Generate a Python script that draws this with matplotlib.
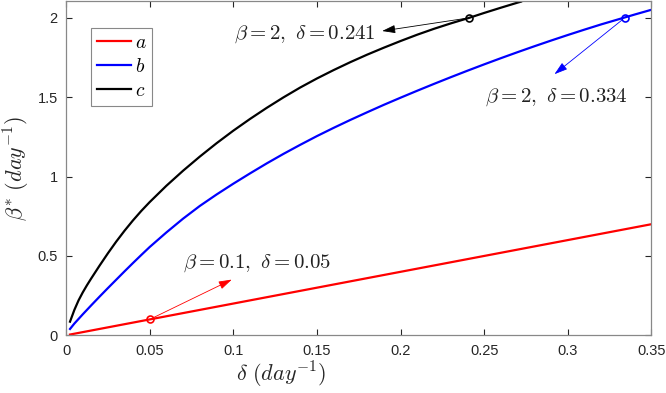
import matplotlib
matplotlib.use("Agg")
import matplotlib.pyplot as plt

plt.rcParams['font.family'] = ['Liberation Sans', 'DejaVu Sans']
plt.rcParams['mathtext.fontset'] = 'cm'

# ---- data ----
delta_a = [0.0024, 0.35]
beta_a = [0.0048, 0.70]

delta_b = [0.0024, 0.005, 0.0075, 0.01, 0.0125, 0.015, 0.02, 0.025, 0.03, 0.035, 0.04, 0.045,
           0.05, 0.06, 0.07, 0.08, 0.09, 0.10, 0.11, 0.12, 0.13, 0.14, 0.15, 0.16, 0.17,
           0.18, 0.19, 0.20, 0.21, 0.22, 0.23, 0.24, 0.25, 0.26, 0.27, 0.28, 0.29, 0.30,
           0.31, 0.32, 0.33, 0.34, 0.35]
beta_b = [0.04, 0.074, 0.103, 0.132, 0.16, 0.188, 0.243, 0.297, 0.35, 0.403, 0.455, 0.506,
          0.556, 0.648, 0.735, 0.815, 0.887, 0.955, 1.02, 1.083, 1.143, 1.20, 1.255, 1.307, 1.357,
          1.405, 1.452, 1.497, 1.541, 1.584, 1.626, 1.667, 1.707, 1.746, 1.784, 1.821, 1.857, 1.892,
          1.926, 1.959, 1.99, 2.021, 2.051]

delta_c = [0.0024, 0.005, 0.0075, 0.01, 0.0125, 0.015, 0.02, 0.025, 0.03, 0.035, 0.04, 0.045,
           0.05, 0.06, 0.07, 0.08, 0.09, 0.10, 0.11, 0.12, 0.13, 0.14, 0.15, 0.16, 0.17,
           0.18, 0.19, 0.20, 0.21, 0.22, 0.23, 0.241, 0.25, 0.26, 0.27, 0.272]
beta_c = [0.086, 0.16, 0.22, 0.27, 0.315, 0.357, 0.438, 0.516, 0.59, 0.659, 0.7235, 0.7835,
          0.839, 0.942, 1.037, 1.126, 1.21, 1.289, 1.363, 1.433, 1.499, 1.561, 1.618, 1.671, 1.721,
          1.768, 1.812, 1.854, 1.894, 1.931, 1.965, 2.0, 2.031, 2.064, 2.096, 2.102]

labels = ['$a$', '$b$', '$c$']
colors = ['#ff0000', '#0000ff', '#000000']

marked_delta = [0.05, 0.334, 0.241]
marked_beta = [0.1, 2.0, 2.0]
ann_texts = [r'$\beta=0.1,\ \delta=0.05$', r'$\beta=2,\ \delta=0.334$', r'$\beta=2,\ \delta=0.241$']
ann_colors = ['#ff0000', '#0000ff', '#000000']
arrow_heads = [(0.0991, 0.351), (0.292, 1.645), (0.189, 1.917)]
text_pos = [(0.1143, 0.454), (0.2932, 1.498), (0.1425, 1.898)]

xticks = [0, 0.05, 0.1, 0.15, 0.2, 0.25, 0.3, 0.35]
xticklabels = ['0', '0.05', '0.1', '0.15', '0.2', '0.25', '0.3', '0.35']
yticks = [0, 0.5, 1, 1.5, 2]
yticklabels = ['0', '0.5', '1', '1.5', '2']

fig = plt.figure(figsize=(6.66, 3.93), dpi=100)
ax = fig.add_axes([0.0991, 0.1468, 0.8791, 0.8502])

for d, b, lab, col in zip([delta_a, delta_b, delta_c], [beta_a, beta_b, beta_c], labels, colors):
    ax.plot(d, b, color=col, lw=1.6, label=lab, solid_joinstyle='round')

for md, mb, col in zip(marked_delta, marked_beta, ann_colors):
    ax.plot([md], [mb], 'o', mfc='none', mec=col, ms=5, mew=1.2)

for md, mb, txt, col, head, tp in zip(marked_delta, marked_beta, ann_texts, ann_colors, arrow_heads, text_pos):
    ax.annotate('', xy=head, xytext=(md, mb),
                arrowprops=dict(arrowstyle='-|>,head_length=0.8,head_width=0.25',
                                color=col, lw=0.6, shrinkA=2, shrinkB=0))
    ax.text(tp[0], tp[1], txt, ha='center', va='center', fontsize=15, color='#222222')

ax.set_xlim(0, 0.35)
ax.set_ylim(0, 2.105)
ax.set_xticks(xticks)
ax.set_xticklabels(xticklabels)
ax.set_yticks(yticks)
ax.set_yticklabels(yticklabels)
ax.tick_params(direction='in', length=4, width=0.8, colors='#262626', labelsize=10.5,
               top=True, right=True, pad=6)
for sp in ax.spines.values():
    sp.set_color('#888888')
    sp.set_linewidth(0.9)

ax.set_xlabel(r'$\delta\ (day^{-1})$', fontsize=16, color='#262626')
ax.xaxis.set_label_coords(0.3675, -0.075)
ax.set_ylabel(r'$\beta^{*}\ (day^{-1})$', fontsize=16, color='#262626')
ax.yaxis.set_label_coords(-0.058, 0.5)

leg = ax.legend(loc='upper left', bbox_to_anchor=(0.0427, 0.919), borderaxespad=0,
                fontsize=14, handlelength=1.75, handletextpad=0.2, labelspacing=0.32,
                borderpad=0.3, fancybox=False, framealpha=1, edgecolor='#888888')
leg.get_frame().set_linewidth(0.8)

fig.savefig('out.png', dpi=100)
